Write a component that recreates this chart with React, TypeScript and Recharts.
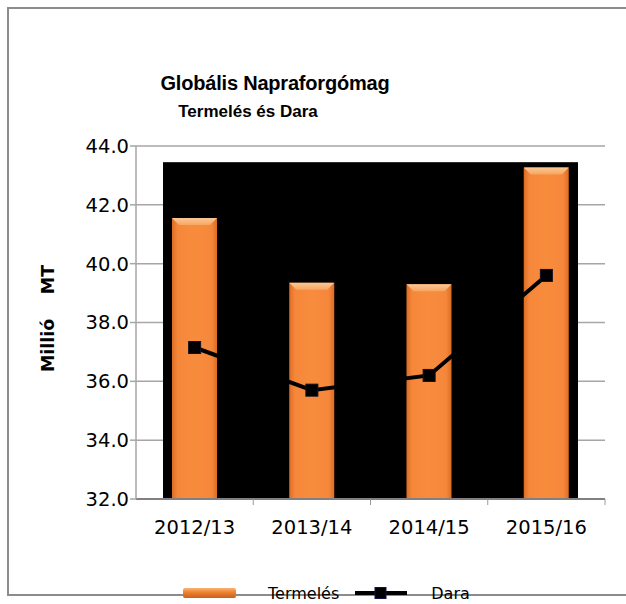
import React from "react";
import {
  ComposedChart,
  Bar,
  Line,
  XAxis,
  YAxis,
  CartesianGrid,
  ReferenceArea,
} from "recharts";

const categories = ["2012/13", "2013/14", "2014/15", "2015/16"];
const termeles = [41.55, 39.35, 39.3, 43.27];
const dara = [37.15, 35.7, 36.2, 39.6];
const yTicks = [32, 34, 36, 38, 40, 42, 44];
const backdropTop = 43.45;

const data = categories.map((year, i) => ({
  year,
  termeles: termeles[i],
  dara: dara[i],
}));

const tickFont = "'DejaVu Sans', 'Open Sans', sans-serif";
const titleFont = "'Liberation Sans', Arial, sans-serif";

const BevelBar = (props: any) => {
  const { x, y, width, height } = props;
  if (!height || height <= 0) return null;
  const b = Math.min(7, height / 2);
  return (
    <g>
      <rect x={x} y={y} width={width} height={height} fill="url(#barBody)" />
      <polygon
        points={`${x},${y} ${x + width},${y} ${x + width - b},${y + b} ${x + b},${y + b}`}
        fill="url(#barTop)"
      />
    </g>
  );
};

const SquareDot = (props: any) => {
  const { cx, cy } = props;
  if (cx == null || cy == null) return null;
  return <rect x={cx - 6} y={cy - 6} width={12} height={12} fill="#000" stroke="#10102a" strokeWidth={1} />;
};

// black plot backdrop, slightly inset from the axis range like the original
const Backdrop = (props: any) => {
  const { x, y, width, height } = props;
  const inset = width * 0.0576;
  return <rect x={x + inset} y={y} width={width - inset * 2} height={height} fill="#000" />;
};

const XTick = (props: any) => {
  const { x, y, payload } = props;
  const off = payload.offset || 0;
  return (
    <g>
      <line x1={x + off} y1={y - 21} x2={x + off} y2={y - 15} stroke="#999" strokeWidth={1} />
      <text x={x} y={y} dy="0.71em" textAnchor="middle" fontSize={19.5} fontFamily={tickFont} fill="#000">
        {payload.value}
      </text>
    </g>
  );
};

const YLabel = (props: any) => {
  const vb = props.viewBox || { x: 0, y: 146, height: 353 };
  const cx = 48;
  const cy = vb.y + vb.height / 2 - 4;
  return (
    <text
      x={cx}
      y={cy}
      transform={`rotate(-90 ${cx} ${cy})`}
      textAnchor="middle"
      dominantBaseline="central"
      fontSize={17.5}
      fontWeight="bold"
      fontFamily={tickFont}
      fill="#000"
      style={{ whiteSpace: "pre" }}
    >
      {"Millió    MT"}
    </text>
  );
};

export default function App() {
  return (
    <div style={{ position: "absolute", left: 0, top: 0, width: 626, height: 604, overflow: "hidden", background: "#fff" }}>
      <div
        style={{
          position: "absolute",
          left: 7,
          top: 7,
          width: 619,
          height: 589,
          border: "2px solid #8c8c8c",
          borderRight: "none",
          boxSizing: "border-box",
        }}
      />
      <div
        style={{
          position: "absolute",
          left: 0,
          width: 550,
          top: 70,
          textAlign: "center",
          fontFamily: titleFont,
          fontWeight: "bold",
          fontSize: 20,
          letterSpacing: -0.2,
          color: "#000",
          lineHeight: "26px",
        }}
      >
        Globális Napraforgómag
      </div>
      <div
        style={{
          position: "absolute",
          left: 0,
          width: 496,
          top: 101,
          textAlign: "center",
          fontFamily: titleFont,
          fontWeight: "bold",
          fontSize: 17,
          color: "#000",
          lineHeight: "22px",
        }}
      >
        Termelés és Dara
      </div>
      <div style={{ position: "absolute", left: 0, top: 0 }}>
        <ComposedChart
          width={626}
          height={604}
          data={data}
          margin={{ top: 146, right: 21, bottom: 75, left: 0 }}
        >
          <defs>
            <linearGradient id="barBody" x1="0" y1="0" x2="1" y2="0">
              <stop offset="0%" stopColor="#dc6c22" />
              <stop offset="12%" stopColor="#f5873b" />
              <stop offset="50%" stopColor="#f88c3d" />
              <stop offset="88%" stopColor="#f5873b" />
              <stop offset="100%" stopColor="#dc6c22" />
            </linearGradient>
            <linearGradient id="barTop" x1="0" y1="0" x2="0" y2="1">
              <stop offset="0%" stopColor="#fbc896" />
              <stop offset="100%" stopColor="#f6a560" />
            </linearGradient>
          </defs>
          <CartesianGrid vertical={false} stroke="#a6a6a6" strokeWidth={1.5} />
          <ReferenceArea
            y1={32}
            y2={backdropTop}
            ifOverflow="extendDomain"
            shape={<Backdrop />}
            zIndex={-60}
          />
          <XAxis
            dataKey="year"
            axisLine={{ stroke: "#808080", strokeWidth: 2 }}
            tickLine={false}
            tickSize={6}
            tickMargin={15}
            tick={<XTick />}
            interval={0}
          />
          <YAxis
            domain={[32, 44]}
            ticks={yTicks}
            width={136}
            axisLine={{ stroke: "#a6a6a6", strokeWidth: 1.5 }}
            tickLine={{ stroke: "#a6a6a6", strokeWidth: 1.5 }}
            tickSize={6}
            tickMargin={1}
            tickFormatter={(v: number) => v.toFixed(1)}
            tick={{ fontSize: 19.5, fontFamily: tickFont, fill: "#000" }}
            label={<YLabel />}
          />
          <Bar dataKey="termeles" barSize={45} shape={<BevelBar />} isAnimationActive={false} />
          <Line
            type="linear"
            dataKey="dara"
            stroke="#000"
            strokeWidth={4}
            dot={<SquareDot />}
            activeDot={false}
            isAnimationActive={false}
          />
        </ComposedChart>
      </div>
      <div
        style={{
          position: "absolute",
          left: 183,
          top: 583,
          height: 20,
          display: "flex",
          alignItems: "center",
          fontFamily: tickFont,
          fontSize: 16,
          lineHeight: "19px",
          color: "#000",
        }}
      >
        <svg width={54} height={12} style={{ display: "block" }}>
          <rect x={0} y={1} width={53} height={10} rx={2} fill="url(#legendBar)" />
          <defs>
            <linearGradient id="legendBar" x1="0" y1="0" x2="0" y2="1">
              <stop offset="0%" stopColor="#f9b57a" />
              <stop offset="40%" stopColor="#f08431" />
              <stop offset="100%" stopColor="#c9601c" />
            </linearGradient>
          </defs>
        </svg>
        <span style={{ marginLeft: 31 }}>Termelés</span>
        <svg width={52} height={12} style={{ display: "block", marginLeft: 16 }}>
          <line x1={0} y1={6} x2={52} y2={6} stroke="#000" strokeWidth={4} />
          <rect x={20} y={0.5} width={11} height={11} fill="#000" stroke="#10104a" strokeWidth={1} />
        </svg>
        <span style={{ marginLeft: 24 }}>Dara</span>
      </div>
    </div>
  );
}
